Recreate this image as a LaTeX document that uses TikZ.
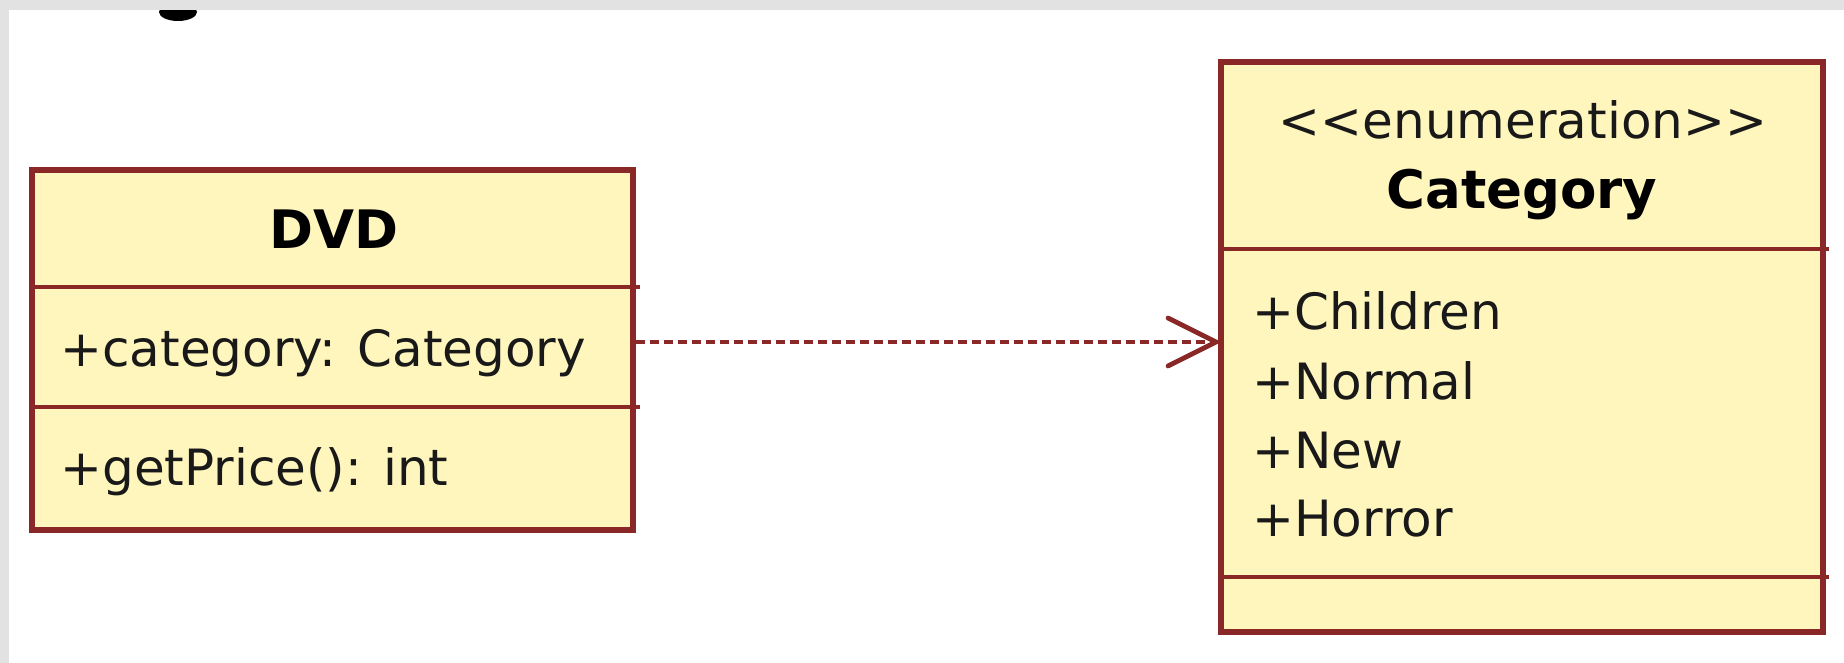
\documentclass[tikz,border=0pt]{standalone}
\usepackage{fontspec}
\setmainfont{DejaVu Sans}
\usetikzlibrary{arrows.meta}
\definecolor{umlfill}{RGB}{255,246,190}
\definecolor{umlline}{RGB}{138,40,40}
\definecolor{edgegray}{RGB}{226,226,226}
\tikzset{
  umlbox/.style={draw=umlline, fill=umlfill, line width=2.6pt, rectangle, inner sep=0pt},
  sepline/.style={draw=umlline, line width=2.4pt},
  lbl/.style={inner sep=0pt, font=\fontsize{25pt}{30pt}\selectfont, text=black!90},
  blbl/.style={inner sep=0pt, font=\fontsize{26.5pt}{30pt}\selectfont\bfseries, text=black},
  dep/.style={draw=umlline, line width=1.7pt, dash pattern=on 4.5pt off 2.5pt, shorten >=-1.5pt,
    -{Straight Barb[length=24pt, width=24pt, line width=2.4pt, line cap=round]}},
}
\begin{document}
\begin{tikzpicture}[x=0.5pt, y=-0.5pt]
\useasboundingbox (0,0) rectangle (1844,663);
\fill[white] (0,0) rectangle (1844,663);
% cut-off glyph at the top edge
\fill[black] (178,12) ellipse [x radius=19, y radius=9];
\fill[edgegray] (0,0) rectangle (1844,10);
\fill[edgegray] (0,0) rectangle (9,663);

% DVD class
\node[umlbox, minimum width=300.5pt, minimum height=180pt] (dvd) at (332.5,350) {};
\draw[sepline] (32,287) -- (640,287);
\draw[sepline] (32,407) -- (640,407);
\node[blbl, anchor=base] (dvdname) at (334,249) {DVD};
\node[lbl, anchor=base west] (dvdattr) at (60,367) {+category: Category};
\node[lbl, anchor=base west] (dvdop) at (60,486) {+getPrice(): int};

% Category enumeration
\node[umlbox, minimum width=301pt, minimum height=285pt] (cat) at (1522,347) {};
\draw[sepline] (1221,249) -- (1829,249);
\draw[sepline] (1221,577) -- (1829,577);
\node[lbl, anchor=base] (stereo) at (1523,139) {<{}<enumeration>{}>};
\node[blbl, anchor=base] (catname) at (1522,209) {Category};
\node[lbl, anchor=base west] (lit1) at (1252,330) {+Children};
\node[lbl, anchor=base west] (lit2) at (1252,400) {+Normal};
\node[lbl, anchor=base west] (lit3) at (1252,468) {+New};
\node[lbl, anchor=base west] (lit4) at (1252,537) {+Horror};

% dependency
\draw[dep] (dvd.east |- 0,342) -- (cat.west |- 0,342);
\end{tikzpicture}
\end{document}
